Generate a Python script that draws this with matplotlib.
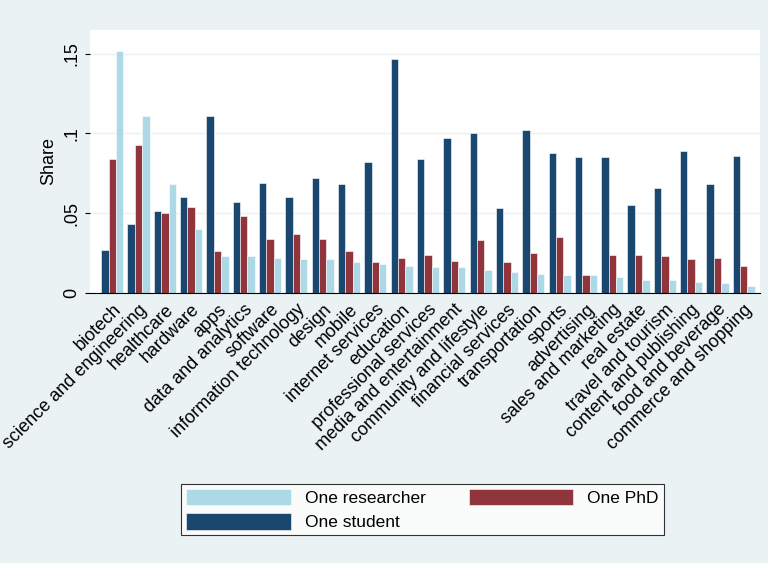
import matplotlib.pyplot as plt
import numpy as np

plt.rcParams['font.family'] = ['Liberation Sans', 'DejaVu Sans']

categories = ["biotech", "science and engineering", "healthcare", "hardware", "apps",
              "data and analytics", "software", "information technology", "design", "mobile",
              "internet services", "education", "professional services",
              "media and entertainment", "community and lifestyle", "financial services",
              "transportation", "sports", "advertising", "sales and marketing", "real estate",
              "travel and tourism", "content and publishing", "food and beverage",
              "commerce and shopping"]
student = [.027, .043, .051, .060, .111, .057, .069, .060, .072, .068, .082, .147, .084,
           .097, .100, .053, .102, .088, .085, .085, .055, .066, .089, .068, .086]
phd = [.084, .093, .050, .054, .026, .048, .034, .037, .034, .026, .019, .022, .024,
       .020, .033, .019, .025, .035, .011, .024, .024, .023, .021, .022, .017]
researcher = [.152, .111, .068, .040, .023, .023, .022, .021, .021, .019, .018, .017, .016,
              .016, .014, .013, .012, .011, .011, .010, .008, .008, .007, .006, .004]

navy, maroon, ltblue = "#1a476f", "#90353b", "#add8e6"

fig = plt.figure(figsize=(7.68, 5.63), dpi=100)
fig.patch.set_facecolor("#eaf2f3")
ax = fig.add_axes([0.117, 0.48, 0.872, 0.467])
ax.set_facecolor("white")

x = np.arange(len(categories))
w = 0.28
b1 = ax.bar(x - w, student, w, color=navy, edgecolor="white", linewidth=0.4)
b2 = ax.bar(x, phd, w, color=maroon, edgecolor="white", linewidth=0.4)
b3 = ax.bar(x + w, researcher, w, color=ltblue, edgecolor="white", linewidth=0.4)

ax.set_xlim(-0.85, len(categories) - 0.4)
ax.set_ylim(0, 0.165)
ax.set_yticks([0, .05, .1, .15])
ax.set_yticklabels(["0", ".05", ".1", ".15"], rotation=90, va="center", fontsize=13)
ax.yaxis.grid(True, color="#eaf2f3", linewidth=1)
ax.set_axisbelow(True)
ax.set_ylabel("Share", fontsize=13)
ax.set_xticks(x)
ax.set_xticklabels(categories, rotation=45, ha="right", rotation_mode="anchor", fontsize=13)
ax.tick_params(axis="x", length=0, pad=6)
for s in ["top", "right", "left"]:
    ax.spines[s].set_visible(False)
ax.spines["bottom"].set_color("black")

leg = fig.legend([b3, b1, b2], ["One researcher", "One student", "One PhD"], ncol=2,
                 loc="center", bbox_to_anchor=(0.55, 0.095), fontsize=12.5, frameon=True,
                 fancybox=False, edgecolor="black", handlelength=6, handleheight=1.1,
                 columnspacing=2.5, borderpad=0.3, labelspacing=0.4)
leg.get_frame().set_linewidth(0.8)

fig.savefig("out.png", dpi=100, facecolor=fig.get_facecolor())
